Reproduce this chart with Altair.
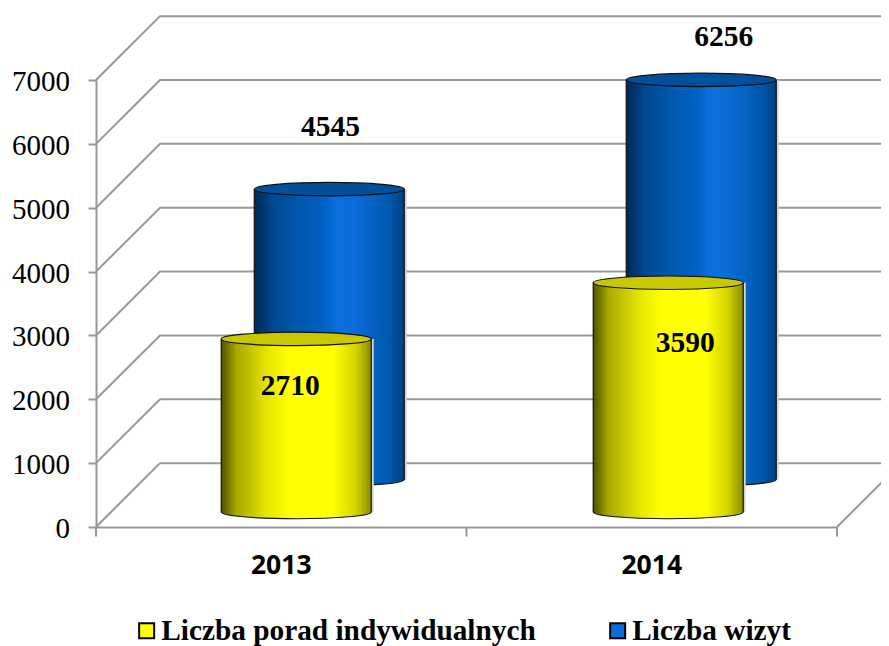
import altair as alt
import pandas as pd

YEARS = ["2013", "2014"]
SERIES = ["Liczba porad indywidualnych", "Liczba wizyt"]
PORADY = [2710, 3590]
WIZYTY = [4545, 6256]
LEVELS = [0, 1000, 2000, 3000, 4000, 5000, 6000, 7000]

# chart geometry in data units
CENTERS = [0.5, 1.504]
LABEL_CENTERS = [0.5, 1.5]
DEPTH_X = 0.1727
DEPTH_Y = 1000
HALF = 0.2024
DEPTH_FRONT = (0.0405, 235)
DEPTH_BACK = (0.1296, 745)
GRID = "#989898"

xs = alt.Scale(domain=[0, 2], nice=False, zero=False)
ys = alt.Scale(domain=[0, 7000], nice=False, zero=False)
XAX = alt.Axis(
    values=LABEL_CENTERS, labels=False, ticks=False, domain=True, domainColor=GRID, domainWidth=2,
    grid=False, title=None)
YAX = alt.Axis(
    values=LEVELS, labels=False, ticks=True, tickSize=8, tickColor=GRID, tickWidth=2,
    domain=True, domainColor=GRID, domainWidth=2, grid=False, title=None)
X = lambda f: alt.X(f"{f}:Q", scale=xs, axis=XAX)
Y = lambda f: alt.Y(f"{f}:Q", scale=ys, axis=YAX)

wall_rows = []
for v in LEVELS:
    for o, (x, y) in enumerate([(0, v), (DEPTH_X, v + DEPTH_Y), (2 + DEPTH_X, v + DEPTH_Y)]):
        wall_rows.append({"lvl": v, "o": o, "x": x, "y": y})
for o, (x, y) in enumerate([(2, 0), (2 + DEPTH_X, DEPTH_Y)]):
    wall_rows.append({"lvl": -1, "o": o, "x": x, "y": y})

wall = alt.Chart(pd.DataFrame(wall_rows)).mark_line(color=GRID, strokeWidth=2).encode(
    x=X("x"), y=Y("y"), detail="lvl:N", order="o:Q",
)

ticks = alt.Chart(pd.DataFrame({"x": [0, 1, 2], "y": [0, 0, 0], "y2": [-150, -150, -150]})).mark_rule(
    color=GRID, strokeWidth=2
).encode(x=X("x"), y=Y("y"), y2="y2:Q")

ylabels = alt.Chart(pd.DataFrame({"x": [0] * len(LEVELS), "y": LEVELS, "t": [str(v) for v in LEVELS]})).mark_text(
    font="Liberation Serif", fontSize=29, color="black", align="right", baseline="middle", dx=-26, dy=2
).encode(x=X("x"), y=Y("y"), text="t:N")

xlabels = alt.Chart(pd.DataFrame({"x": LABEL_CENTERS, "y": [0, 0], "t": YEARS})).mark_text(
    font="Open Sans", fontWeight="bold", fontSize=26.5, color="black", align="center", baseline="middle", dy=39
).encode(x=X("x"), y=Y("y"), text="t:N")

legend_src = alt.Chart(pd.DataFrame({"s": SERIES, "x": [0, 0], "y": [0, 0]})).mark_square(size=0, filled=True, opacity=1).encode(
    x=X("x"),
    y=Y("y"),
    color=alt.Color("s:N", scale=alt.Scale(domain=SERIES, range=["#ffff00", "#0a6cd8"]), legend=alt.Legend(
        title=None, orient="none", legendX=32, legendY=532, direction="horizontal", columns=2,
        symbolType="square", symbolSize=225, symbolStrokeColor="black", symbolStrokeWidth=2, symbolOpacity=1,
        labelFont="Liberation Serif", labelFontWeight="bold", labelFontSize=29.3, labelColor="black",
        labelOffset=0, columnPadding=67, labelLimit=500, padding=4)),
)

BLUE = alt.Gradient(gradient="linear", x1=0, x2=1, y1=0, y2=0, stops=[
    alt.GradientStop(offset=0, color="#012a55"), alt.GradientStop(offset=0.06, color="#00366e"),
    alt.GradientStop(offset=0.12, color="#00488f"), alt.GradientStop(offset=0.3, color="#0058ae"),
    alt.GradientStop(offset=0.48, color="#0062c4"), alt.GradientStop(offset=0.55, color="#0a70e0"),
    alt.GradientStop(offset=0.68, color="#0a6cd8"), alt.GradientStop(offset=0.9, color="#0058ae"),
    alt.GradientStop(offset=1, color="#004080")])
YELLOW = alt.Gradient(gradient="linear", x1=0, x2=1, y1=0, y2=0, stops=[
    alt.GradientStop(offset=0, color="#505000"), alt.GradientStop(offset=0.1, color="#a8a800"),
    alt.GradientStop(offset=0.3, color="#e4e400"), alt.GradientStop(offset=0.45, color="#ffff00"),
    alt.GradientStop(offset=0.75, color="#ffff00"), alt.GradientStop(offset=0.9, color="#d2d200"),
    alt.GradientStop(offset=1, color="#8a8a00")])

ELLIPSE = "M-1,0 A1,0.09 0 1 1 1,0 A1,0.09 0 1 1 -1,0 Z"
ELL_SIZE = 22500


def cylinders(values, depth, grad, top_color):
    dx, dy = depth
    rows = [{"c": CENTERS[i] + dx, "l": CENTERS[i] + dx - HALF, "r": CENTERS[i] + dx + HALF,
             "b": dy, "t": v + dy} for i, v in enumerate(values)]
    d = alt.Chart(pd.DataFrame(rows))
    shadow = d.mark_rule(color="#d4d4d4", strokeWidth=5).encode(x=X("r"), y=Y("b"), y2="t:Q")
    base = d.mark_point(shape=ELLIPSE, size=ELL_SIZE, filled=True, fill=grad, stroke="#111111",
                        strokeWidth=1.2, opacity=1).encode(x=X("c"), y=Y("b"))
    body = d.mark_rect(fill=grad).encode(x=X("l"), x2="r:Q", y=Y("b"), y2="t:Q")
    left = d.mark_rule(color="#111111", strokeWidth=1.2).encode(x=X("l"), y=Y("b"), y2="t:Q")
    right = d.mark_rule(color="#111111", strokeWidth=1.2).encode(x=X("r"), y=Y("b"), y2="t:Q")
    top = d.mark_point(shape=ELLIPSE, size=ELL_SIZE, filled=True, fill=top_color, stroke="#111111",
                       strokeWidth=1.2, opacity=1).encode(x=X("c"), y=Y("t"))
    return [shadow, base, body, left, right, top]


# each printed number and where it sits relative to its cylinder top, in data units
LABEL_NUDGE = [(0.003, 970), (0.061, 680), (-0.0162, -740), (0.0459, -940)]
label_rows = []
for (v, i, depth), (nx, ny) in zip(
        [(WIZYTY[0], 0, DEPTH_BACK), (WIZYTY[1], 1, DEPTH_BACK), (PORADY[0], 0, DEPTH_FRONT), (PORADY[1], 1, DEPTH_FRONT)],
        LABEL_NUDGE):
    label_rows.append({"x": CENTERS[i] + depth[0] + nx, "y": v + depth[1] + ny, "t": str(v)})
labels = alt.Chart(pd.DataFrame(label_rows)).mark_text(
    font="Liberation Serif", fontWeight="bold", fontSize=29.5, color="black", align="center", baseline="middle"
).encode(x=X("x"), y=Y("y"), text="t:N")

chart = alt.layer(
    wall, ticks, ylabels, xlabels, legend_src,
    *cylinders(WIZYTY, DEPTH_BACK, BLUE, "#00509c"),
    *cylinders(PORADY, DEPTH_FRONT, YELLOW, "#c8c800"),
    labels,
).properties(
    width=741, height=447,
    padding={"left": 88, "top": 72, "right": 44, "bottom": 119},
    autosize=alt.AutoSizeParams(type="none"),
).configure_view(stroke=None)

chart.save("out.html", embed_options={"renderer": "svg", "actions": False})
